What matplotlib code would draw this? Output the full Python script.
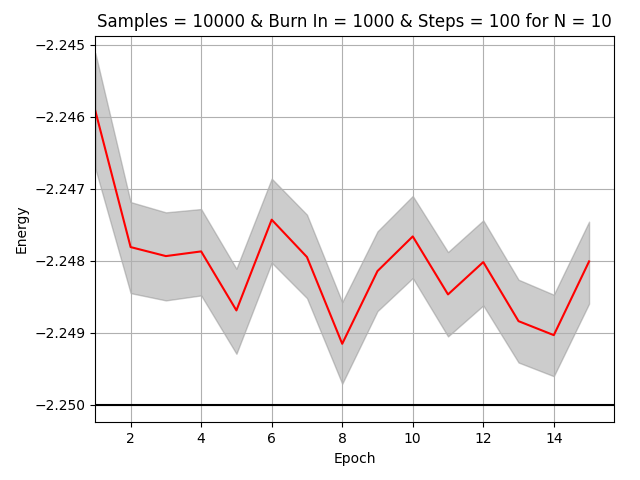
import matplotlib
matplotlib.use("Agg")
import matplotlib.pyplot as plt

epochs = list(range(1, 16))
energy_mean = [-2.245922, -2.247811, -2.247936, -2.247871, -2.248690,
               -2.247431, -2.247949, -2.249153, -2.248144, -2.247663,
               -2.248468, -2.248019, -2.248839, -2.249033, -2.248010]
energy_upper = [-2.245119, -2.247186, -2.247329, -2.247283, -2.248111,
                -2.246861, -2.247361, -2.248575, -2.247593, -2.247102,
                -2.247880, -2.247440, -2.248264, -2.248472, -2.247458]
energy_lower = [-2.246722, -2.248450, -2.248551, -2.248482, -2.249292,
                -2.248028, -2.248519, -2.249708, -2.248700, -2.248241,
                -2.249051, -2.248621, -2.249413, -2.249603, -2.248597]
exact_energy = -2.25

fig, ax = plt.subplots(figsize=(6.4, 4.8), dpi=100)
ax.fill_between(epochs, energy_lower, energy_upper, color="grey", alpha=0.4)
ax.plot(epochs, energy_mean, color="red")
ax.axhline(exact_energy, color="black", linewidth=1.5)
ax.set_xlim(left=1)
ax.ticklabel_format(axis="y", useOffset=False)
ax.grid(True)
ax.set_xlabel("Epoch")
ax.set_ylabel("Energy")
ax.set_title("Samples = 10000 & Burn In = 1000 & Steps = 100 for N = 10")
fig.subplots_adjust(left=0.149, right=0.959, top=0.926, bottom=0.120)
fig.savefig("out.png")
